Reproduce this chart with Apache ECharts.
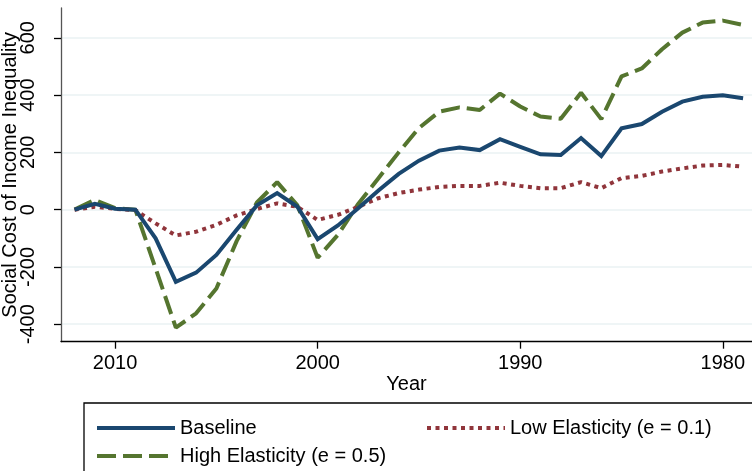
<!DOCTYPE html>
<html><head><meta charset="utf-8">
<script src="https://cdn.jsdelivr.net/npm/echarts@6/dist/echarts.min.js"></script>
<style>html,body{margin:0;padding:0;background:#fff}#c{width:752px;height:471px}</style>
</head><body><div id="c"></div>
<script>
const years = [2012,2011,2010,2009,2008,2007,2006,2005,2004,2003,2002,2001,2000,1999,1998,1997,1996,1995,1994,1993,1992,1991,1990,1989,1988,1987,1986,1985,1984,1983,1982,1981,1980,1979];
const baseline = [0,20,3,0,-100,-252,-220,-158,-70,15,58,10,-103,-55,5,67,125,171,206,217,208,246,219,193,191,250,187,284,299,342,377,394,399,389];
const lowElast = [0,10,3,-2,-48,-90,-77,-53,-20,2,22,10,-36,-18,10,40,58,70,79,83,83,94,83,75,75,96,75,110,118,133,144,154,156,150];
const highElast = [0,34,5,0,-205,-412,-362,-275,-110,25,96,15,-168,-88,20,110,200,285,342,357,348,405,360,325,317,408,316,465,493,560,618,653,660,645];
const xTicks = [1980,1990,2000,2010];
const yTicks = [-400,-200,0,200,400,600];
const names = ['Baseline','Low Elasticity (e = 0.1)','High Elasticity (e = 0.5)'];

const font = 'Liberation Sans, Arial, Helvetica, sans-serif';
const pair = arr => years.map((y,i)=>[y,arr[i]]);
const chart = echarts.init(document.getElementById('c'));
const legendText = {fontFamily:font,fontSize:20,color:'#000'};
const legendBase = {itemWidth:78,itemHeight:14,itemGap:0,textStyle:legendText,
  itemStyle:{opacity:0},lineStyle:{width:'inherit'}};
chart.setOption({
  animation:false,
  backgroundColor:'#fff',
  grid:{left:61,right:0,top:8,bottom:129.3,containLabel:false,outerBoundsMode:'none'},
  xAxis:{type:'value',inverse:true,min:1978.56,max:2012.67,
    name:'Year',nameLocation:'middle',nameGap:33,nameMoveOverlap:false,
    nameTextStyle:{fontFamily:font,fontSize:20,color:'#000'},
    axisLine:{show:true,onZero:false,lineStyle:{color:'#000',width:1.3}},
    axisTick:{show:true,customValues:xTicks,length:7,lineStyle:{color:'#000',width:1.3}},
    axisLabel:{customValues:xTicks,formatter:v=>String(v),fontFamily:font,fontSize:20,color:'#000',margin:12,hideOverlap:false},
    splitLine:{show:false}},
  yAxis:{type:'value',min:-461,max:704,
    name:'Social Cost of Income Inequality',nameLocation:'middle',nameGap:41,nameRotate:90,nameMoveOverlap:false,
    nameTextStyle:{fontFamily:font,fontSize:20,color:'#000'},
    axisLine:{show:true,onZero:false,lineStyle:{color:'#555',width:1.3}},
    axisTick:{show:true,customValues:yTicks,length:7,lineStyle:{color:'#000',width:1.3}},
    axisLabel:{customValues:yTicks,formatter:v=>String(v),rotate:90,fontFamily:font,fontSize:20,color:'#000',margin:23,hideOverlap:false},
    splitLine:{show:true,lineStyle:{color:'#eaf2f3',width:1.5}}},
  legend:[
    Object.assign({data:[names[0]],left:90,top:413},legendBase),
    Object.assign({data:[names[1]],left:420,top:413},legendBase),
    Object.assign({data:[names[2]],left:90,top:441},legendBase)
  ],
  graphic:[{type:'rect',shape:{x:84,y:403,width:700,height:100},style:{fill:'none',stroke:'#000',lineWidth:1.3}}],
  series:[
    {name:names[0],type:'line',data:pair(baseline),symbol:'none',z:3,
      lineStyle:{color:'#1a476f',width:4,cap:'butt',join:'miter'},itemStyle:{color:'#1a476f'}},
    {name:names[1],type:'line',data:pair(lowElast),symbol:'none',z:2,
      lineStyle:{color:'#90353b',width:4,type:[4,4.5],cap:'butt'},itemStyle:{color:'#90353b'}},
    {name:names[2],type:'line',data:pair(highElast),symbol:'none',z:1,
      lineStyle:{color:'#55752f',width:4,type:[19,7],cap:'butt'},itemStyle:{color:'#55752f'}}
  ]
});
</script></body></html>
